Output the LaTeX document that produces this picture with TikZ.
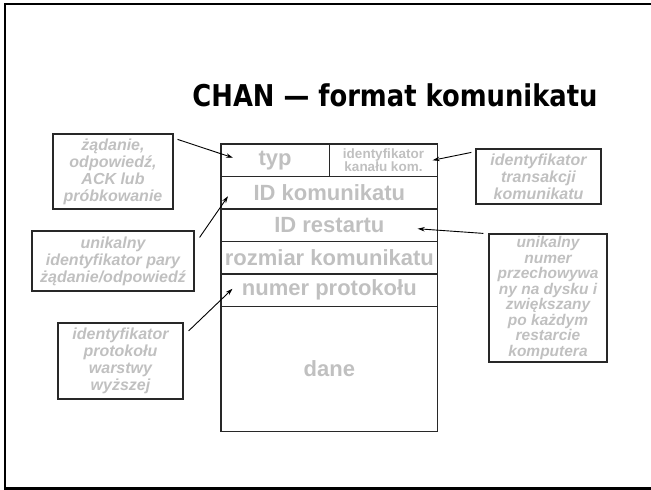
\documentclass[tikz,border=0pt]{standalone}
\usepackage{fontspec}
\setmainfont{Liberation Sans}
\newfontfamily\titlefont[FakeStretch=0.86]{DejaVu Sans}
\usetikzlibrary{positioning, arrows.meta}
\definecolor{pale}{RGB}{192,192,192}
\definecolor{rim}{RGB}{40,40,40}

\begin{document}
\begin{tikzpicture}[x=1pt, y=-1pt,
     node distance = 0pt,
        cell/.style = {rectangle, draw=rim, line width=1.3pt, minimum width=216.7pt, minimum height=32.5pt,
                       inner sep=0pt, outer sep=0pt, text=pale, font=\fontsize{22}{24}\selectfont\bfseries},
        note/.style = {rectangle, draw=rim, line width=1.2pt, inner sep=0pt, align=center, text=pale,
                       font=\fontsize{16}{17}\selectfont\bfseries\itshape},
         arr/.style = {-{Stealth[length=7pt, width=4.5pt]}, line width=0.9pt}
                        ]
\useasboundingbox (0,0) rectangle (651,490);
\draw[black, line width=2.2pt] (660,4) -- (5,4) -- (5,488.5) -- (660,488.5);
\node (tytul) [anchor=base, font=\titlefont\fontsize{30}{30}\selectfont\bfseries] at (395,106) {CHAN — format komunikatu};

\node (typ) [cell, minimum width=108.3pt, anchor=north west] at (221,144) {typ};
\node (kanal) [cell, minimum width=108.4pt, right=of typ, align=center,
               font=\fontsize{13.5}{13}\selectfont\bfseries] {identyfikator\\kanału kom.};
\node (idkom) [cell, anchor=north west] at (typ.south west) {ID komunikatu};
\node (idres) [cell, below=of idkom] {ID restartu};
\node (rozm) [cell, below=of idres] {rozmiar komunikatu};
\node (numer) [cell, below=of rozm] {numer protokołu};
\node (dane) [cell, below=of numer, minimum height=125pt] {dane};

\node (zad) [note, minimum width=120pt, minimum height=75pt] at (113,171.5) {żądanie,\\odpowiedź,\\ACK lub\\próbkowanie};
\node (para) [note, minimum width=162pt, minimum height=60pt] at (113,261) {unikalny\\identyfikator pary\\żądanie/odpowiedź};
\node (prot) [note, minimum width=125pt, minimum height=76pt] at (120.5,361) {identyfikator\\protokołu\\warstwy\\wyższej};
\node (trans) [note, minimum width=125pt, minimum height=55pt] at (538.5,176.5) {identyfikator\\transakcji\\komunikatu};
\node (dysk) [note, minimum width=118pt, minimum height=128pt, font=\fontsize{15.5}{15.5}\selectfont\bfseries\itshape]
      at (548,298) {unikalny\\numer\\przechowywa\\ny na dysku i\\zwiększany\\po każdym\\restarcie\\komputera};

\draw[arr] ([shift={(4,6)}]zad.north east) -- ([shift={(12,-2.5)}]typ.west);
\draw[arr] ([shift={(5,7)}]para.north east) -- ([shift={(7,3.5)}]idkom.west);
\draw[arr] ([shift={(5,8.5)}]prot.north east) -- ([shift={(11.5,-1.5)}]numer.west);
\draw[arr] ([shift={(-4,4)}]trans.north west) -- ([shift={(-5,0)}]kanal.east);
\draw[arr] ([shift={(-5,0)}]dysk.north west) -- ([shift={(-20,3.5)}]idres.east);
\end{tikzpicture}
\end{document}
